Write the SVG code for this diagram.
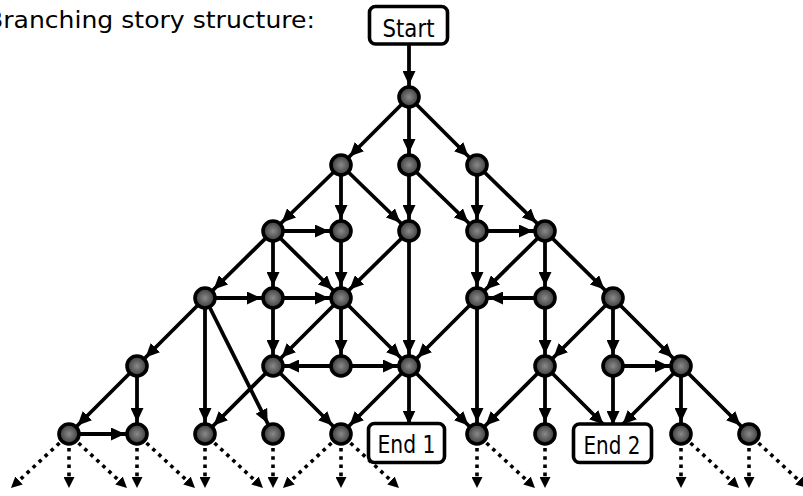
<svg xmlns="http://www.w3.org/2000/svg" width="803" height="496" viewBox="0 0 803 496">
<style>
.e{stroke:#000;stroke-width:3.8;fill:none;marker-end:url(#a)}
.d{stroke:#000;stroke-width:3.6;fill:none;stroke-dasharray:3.6 4.6;marker-end:url(#ad)}
.n{fill:url(#g);stroke:#000;stroke-width:3.6}
.b{fill:#fff;stroke:#000;stroke-width:3.6}
.t{font-family:"DejaVu Sans","Liberation Sans",sans-serif;font-size:25px;text-anchor:middle;fill:#000}
.title{font-family:"DejaVu Sans","Liberation Sans",sans-serif;font-size:23px;fill:#000}
</style>
<defs>
<radialGradient id="g" cx="50%" cy="50%" r="50%">
<stop offset="0" stop-color="#8a8a8a"/>
<stop offset="1" stop-color="#3a3a3a"/>
</radialGradient>
<marker id="a" viewBox="0 0 14 13" markerWidth="14" markerHeight="13" refX="26" refY="6.5" markerUnits="userSpaceOnUse" orient="auto">
<path d="M0,0 L14,6.5 L0,13 z" fill="#000"/>
</marker>
<marker id="ad" viewBox="0 0 11 11" markerWidth="11" markerHeight="11" refX="1" refY="5.5" markerUnits="userSpaceOnUse" orient="auto">
<path d="M0,0 L11,5.5 L0,11 z" fill="#000"/>
</marker>
</defs>
<text class="title" x="-14" y="28" textLength="329" lengthAdjust="spacingAndGlyphs">Branching story structure:</text>
<g id="connectors">
<line class="e" x1="409" y1="44" x2="409" y2="97"/>
<line class="e" x1="409" y1="97" x2="341" y2="165"/>
<line class="e" x1="409" y1="97" x2="409" y2="165"/>
<line class="e" x1="409" y1="97" x2="477" y2="165"/>
<line class="e" x1="341" y1="165" x2="273" y2="231"/>
<line class="e" x1="341" y1="165" x2="341" y2="231"/>
<line class="e" x1="341" y1="165" x2="409" y2="231"/>
<line class="e" x1="409" y1="165" x2="409" y2="231"/>
<line class="e" x1="409" y1="165" x2="477" y2="231"/>
<line class="e" x1="477" y1="165" x2="477" y2="231"/>
<line class="e" x1="477" y1="165" x2="545" y2="231"/>
<line class="e" x1="273" y1="231" x2="341" y2="231"/>
<line class="e" x1="273" y1="231" x2="205" y2="298"/>
<line class="e" x1="273" y1="231" x2="273" y2="298"/>
<line class="e" x1="273" y1="231" x2="341" y2="298"/>
<line class="e" x1="341" y1="231" x2="341" y2="298"/>
<line class="e" x1="409" y1="231" x2="341" y2="298"/>
<line class="e" x1="409" y1="231" x2="409" y2="366"/>
<line class="e" x1="477" y1="231" x2="545" y2="231"/>
<line class="e" x1="477" y1="231" x2="477" y2="298"/>
<line class="e" x1="545" y1="231" x2="477" y2="298"/>
<line class="e" x1="545" y1="231" x2="545" y2="298"/>
<line class="e" x1="545" y1="231" x2="613" y2="298"/>
<line class="e" x1="205" y1="298" x2="273" y2="298"/>
<line class="e" x1="205" y1="298" x2="137" y2="366"/>
<line class="e" x1="205" y1="298" x2="205" y2="434"/>
<line class="e" x1="205" y1="298" x2="273" y2="434"/>
<line class="e" x1="273" y1="298" x2="341" y2="298"/>
<line class="e" x1="273" y1="298" x2="273" y2="366"/>
<line class="e" x1="341" y1="298" x2="273" y2="366"/>
<line class="e" x1="341" y1="298" x2="341" y2="366"/>
<line class="e" x1="341" y1="298" x2="409" y2="366"/>
<line class="e" x1="477" y1="298" x2="409" y2="366"/>
<line class="e" x1="477" y1="298" x2="477" y2="434"/>
<line class="e" x1="545" y1="298" x2="477" y2="298"/>
<line class="e" x1="545" y1="298" x2="545" y2="366"/>
<line class="e" x1="613" y1="298" x2="545" y2="366"/>
<line class="e" x1="613" y1="298" x2="613" y2="366"/>
<line class="e" x1="613" y1="298" x2="681" y2="366"/>
<line class="e" x1="137" y1="366" x2="69" y2="434"/>
<line class="e" x1="137" y1="366" x2="137" y2="434"/>
<line class="e" x1="273" y1="366" x2="205" y2="434"/>
<line class="e" x1="273" y1="366" x2="341" y2="434"/>
<line class="e" x1="341" y1="366" x2="273" y2="366"/>
<line class="e" x1="341" y1="366" x2="409" y2="366"/>
<line class="e" x1="409" y1="366" x2="409" y2="436.5"/>
<line class="e" x1="409" y1="366" x2="341" y2="434"/>
<line class="e" x1="409" y1="366" x2="477" y2="434"/>
<line class="e" x1="545" y1="366" x2="477" y2="434"/>
<line class="e" x1="545" y1="366" x2="545" y2="434"/>
<line class="e" x1="545" y1="366" x2="612" y2="433"/>
<line class="e" x1="613" y1="366" x2="681" y2="366"/>
<line class="e" x1="613" y1="366" x2="613" y2="437"/>
<line class="e" x1="681" y1="366" x2="614" y2="433"/>
<line class="e" x1="681" y1="366" x2="681" y2="434"/>
<line class="e" x1="681" y1="366" x2="749" y2="434"/>
<line class="e" x1="69" y1="434" x2="137" y2="434"/>
<line class="d" x1="59.5" y1="443" x2="18.3" y2="481.2"/>
<line class="d" x1="69" y1="448" x2="69" y2="478"/>
<line class="d" x1="78.5" y1="443" x2="119.7" y2="481.2"/>
<line class="d" x1="137" y1="448" x2="137" y2="478"/>
<line class="d" x1="146.5" y1="443" x2="187.7" y2="481.2"/>
<line class="d" x1="205" y1="448" x2="205" y2="478"/>
<line class="d" x1="214.5" y1="443" x2="255.7" y2="481.2"/>
<line class="d" x1="273" y1="448" x2="273" y2="478"/>
<line class="d" x1="331.5" y1="443" x2="290.3" y2="481.2"/>
<line class="d" x1="341" y1="448" x2="341" y2="478"/>
<line class="d" x1="350.5" y1="443" x2="391.7" y2="481.2"/>
<line class="d" x1="477" y1="448" x2="477" y2="478"/>
<line class="d" x1="486.5" y1="443" x2="527.7" y2="481.2"/>
<line class="d" x1="545" y1="448" x2="545" y2="478"/>
<line class="d" x1="681" y1="448" x2="681" y2="478"/>
<line class="d" x1="690.5" y1="443" x2="731.7" y2="481.2"/>
<line class="d" x1="749" y1="448" x2="749" y2="478"/>
<line class="d" x1="758.5" y1="443" x2="799.7" y2="481.2"/>
</g>
<g id="start"><rect class="b" x="369.5" y="6.5" width="78" height="37.5" rx="6"/><text class="t" x="408.5" y="37" textLength="52" lengthAdjust="spacingAndGlyphs">Start</text></g>
<g id="end1"><rect class="b" x="368.5" y="423.5" width="76" height="39" rx="6"/><text class="t" x="406.5" y="453" textLength="58" lengthAdjust="spacingAndGlyphs">End 1</text></g>
<g id="end2"><rect class="b" x="573.5" y="424" width="78" height="38.5" rx="6"/><text class="t" x="612" y="454" textLength="57" lengthAdjust="spacingAndGlyphs">End 2</text></g>
<g id="n0_5"><circle class="n" cx="409" cy="97" r="10"/></g>
<g id="n1_4"><circle class="n" cx="341" cy="165" r="10"/></g>
<g id="n1_5"><circle class="n" cx="409" cy="165" r="10"/></g>
<g id="n1_6"><circle class="n" cx="477" cy="165" r="10"/></g>
<g id="n2_3"><circle class="n" cx="273" cy="231" r="10"/></g>
<g id="n2_4"><circle class="n" cx="341" cy="231" r="10"/></g>
<g id="n2_5"><circle class="n" cx="409" cy="231" r="10"/></g>
<g id="n2_6"><circle class="n" cx="477" cy="231" r="10"/></g>
<g id="n2_7"><circle class="n" cx="545" cy="231" r="10"/></g>
<g id="n3_2"><circle class="n" cx="205" cy="298" r="10"/></g>
<g id="n3_3"><circle class="n" cx="273" cy="298" r="10"/></g>
<g id="n3_4"><circle class="n" cx="341" cy="298" r="10"/></g>
<g id="n3_6"><circle class="n" cx="477" cy="298" r="10"/></g>
<g id="n3_7"><circle class="n" cx="545" cy="298" r="10"/></g>
<g id="n3_8"><circle class="n" cx="613" cy="298" r="10"/></g>
<g id="n4_1"><circle class="n" cx="137" cy="366" r="10"/></g>
<g id="n4_3"><circle class="n" cx="273" cy="366" r="10"/></g>
<g id="n4_4"><circle class="n" cx="341" cy="366" r="10"/></g>
<g id="n4_5"><circle class="n" cx="409" cy="366" r="10"/></g>
<g id="n4_7"><circle class="n" cx="545" cy="366" r="10"/></g>
<g id="n4_8"><circle class="n" cx="613" cy="366" r="10"/></g>
<g id="n4_9"><circle class="n" cx="681" cy="366" r="10"/></g>
<g id="n5_0"><circle class="n" cx="69" cy="434" r="10"/></g>
<g id="n5_1"><circle class="n" cx="137" cy="434" r="10"/></g>
<g id="n5_2"><circle class="n" cx="205" cy="434" r="10"/></g>
<g id="n5_3"><circle class="n" cx="273" cy="434" r="10"/></g>
<g id="n5_4"><circle class="n" cx="341" cy="434" r="10"/></g>
<g id="n5_6"><circle class="n" cx="477" cy="434" r="10"/></g>
<g id="n5_7"><circle class="n" cx="545" cy="434" r="10"/></g>
<g id="n5_9"><circle class="n" cx="681" cy="434" r="10"/></g>
<g id="n5_10"><circle class="n" cx="749" cy="434" r="10"/></g>
</svg>
